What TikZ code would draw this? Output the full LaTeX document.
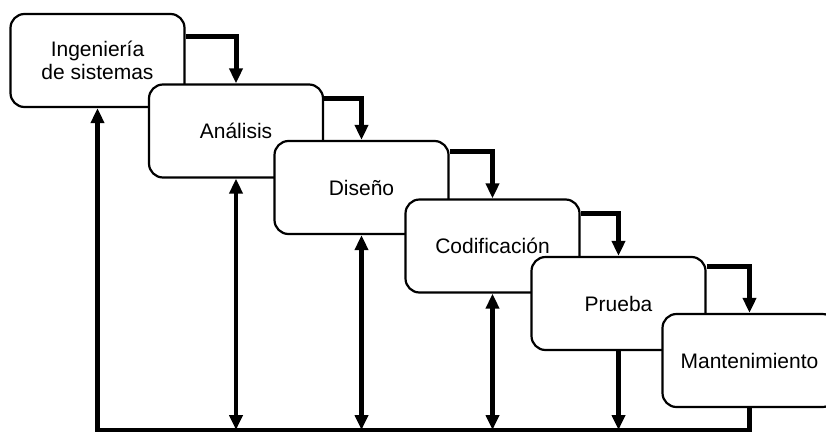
\documentclass[tikz,border=0pt]{standalone}
\usepackage{fontspec}
\setmainfont{Liberation Sans}
\usetikzlibrary{arrows.meta}

\begin{document}
\begin{tikzpicture}[
    x=1pt, y=-1pt,
    >={Triangle[length=15pt,width=13pt]},
    etapa/.style={draw, line width=2.2pt, rounded corners=14pt, fill=white, align=center, minimum width=174pt, minimum height=93pt, inner sep=2pt, font=\fontsize{21}{23}\selectfont},
    flecha/.style={->, line width=5pt},
    retro/.style={line width=4.5pt}
  ]
    \useasboundingbox (0,0) rectangle (826,434);

    \node[etapa] (ing) at (97.5,60.5) {Ingeniería\\de sistemas};
    \node[etapa] (ana) at (236,131) {Análisis};
    \node[etapa] (dis) at (361.5,187.5) {Diseño};
    \node[etapa] (cod) at (492.5,246) {Codificación};
    \node[etapa] (pru) at (618.5,303.5) {Prueba};
    \node[etapa] (man) at (749.5,360.5) {Mantenimiento};
    \coordinate (base) at (0,430);

    \draw[flecha] ([yshift=-24pt]ing.north east) -| (ana.north);
    \draw[flecha] ([yshift=-15pt]ana.north east) -| (dis.north);
    \draw[flecha] ([yshift=-12pt]dis.north east) -| (cod.north);
    \draw[flecha] ([yshift=-15pt]cod.north east) -| (pru.north);
    \draw[flecha] ([yshift=-11pt]pru.north east) -| (man.north);

    \draw[retro, ->] (man.south) |- (ing.south |- base) -- (ing.south);
    \draw[retro, <->] (ana.south) -- (ana.south |- base);
    \draw[retro, <->] (dis.south) -- (dis.south |- base);
    \draw[retro, <->] (cod.south) -- (cod.south |- base);
    \draw[retro, ->] (pru.south) -- (pru.south |- base);
  \end{tikzpicture}
\end{document}
